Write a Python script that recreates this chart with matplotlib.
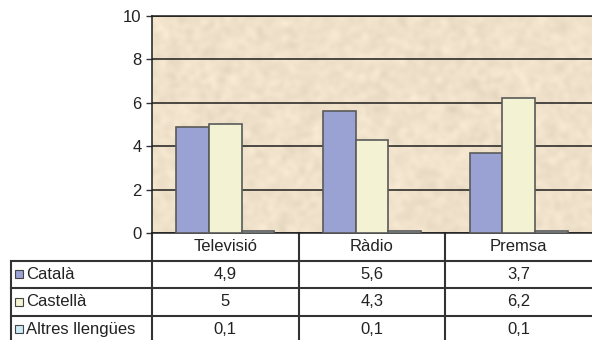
import numpy as np
import matplotlib
matplotlib.use("Agg")
import matplotlib.pyplot as plt
from matplotlib.lines import Line2D

# Audience share by language and medium
categories = ["Televisió", "Ràdio", "Premsa"]
series_names = ["Català", "Castellà", "Altres llengües"]
catala = [4.9, 5.6, 3.7]
castella = [5.0, 4.3, 6.2]
altres = [0.1, 0.1, 0.1]
y_ticks = [0, 2, 4, 6, 8, 10]

series = [catala, castella, altres]
colors = ["#99A2D2", "#F3F2D3", "#CDEBF5"]

plt.rcParams["font.family"] = ["Liberation Sans", "DejaVu Sans"]
plt.rcParams["font.size"] = 12
TXT = "#222222"
LINE = "#333333"


def fmt(v):
    s = ("%.1f" % v).rstrip("0").rstrip(".")
    return s.replace(".", ",")


W, H = 592, 340
fig = plt.figure(figsize=(W / 100, H / 100), dpi=100)
ax_l, ax_r, ax_t, ax_b = 152, 592, 16, 233
ax = fig.add_axes([ax_l / W, (H - ax_b) / H, (ax_r - ax_l) / W, (ax_b - ax_t) / H])

# parchment-like backdrop: soft mottled beige
rng = np.random.default_rng(7)
noise = rng.normal(size=(220, 440))
fx = np.fft.fftfreq(440)[None, :]
fy = np.fft.fftfreq(220)[:, None]
kern = np.exp(-(fx ** 2 + fy ** 2) / (2 * 0.06 ** 2))
smooth = np.real(np.fft.ifft2(np.fft.fft2(noise) * kern))
smooth = (smooth - smooth.mean()) / smooth.std()
base = np.array([0xEF, 0xE1, 0xCA]) / 255.0
tex = np.clip(base[None, None, :] + 0.012 * smooth[:, :, None], 0, 1)
ax.imshow(tex, extent=[-0.5, len(categories) - 0.5, 0, 10], aspect="auto",
          interpolation="bilinear", zorder=0)

x = np.arange(len(categories))
bw = 0.222
for i, (vals, col) in enumerate(zip(series, colors)):
    ax.bar(x + (i - 1) * bw, vals, bw, color=col, edgecolor="#5A5A5A",
           linewidth=1.2, zorder=3)

ax.set_xlim(-0.5, len(categories) - 0.5)
ax.set_ylim(0, 10)
ax.set_yticks(y_ticks)
ax.set_yticklabels([str(t) for t in y_ticks], color=TXT)
ax.set_xticks([])
ax.yaxis.grid(True, color="#1E1E1E", linewidth=1.1, zorder=1)
ax.set_axisbelow(True)
ax.tick_params(axis="y", length=4.5, width=1, color=LINE, pad=3)
ax.spines["right"].set_visible(False)
for s in ["left", "bottom", "top"]:
    ax.spines[s].set_color("#1E1E1E")
    ax.spines[s].set_linewidth(1.1)

# Data table under the plot
ax_h = ax_b - ax_t
ax_w = ax_r - ax_l
rh = 27.5 / ax_h
n_rows = len(series_names)
x_left = (11 - ax_l) / ax_w
y_bottom = -(n_rows + 1.2) * rh
tl = dict(transform=ax.transAxes, clip_on=False, color=LINE, linewidth=1.5)

for r in range(1, n_rows + 1):
    ax.add_line(Line2D([x_left, 1], [-r * rh, -r * rh], **tl))
for k in range(len(categories)):
    xf = k / len(categories)
    ax.add_line(Line2D([xf, xf], [0, y_bottom], **tl))
ax.add_line(Line2D([x_left, x_left], [-rh, y_bottom], **tl))

ncat = len(categories)
for k, cat in enumerate(categories):
    ax.text((k + 0.5) / ncat, -0.5 * rh, cat, transform=ax.transAxes,
            ha="center", va="center", color=TXT)
for r, (name, vals, col) in enumerate(zip(series_names, series, colors)):
    yc = -(r + 1.5) * rh
    ax.plot([(19 - ax_l) / ax_w], [yc], marker="s", markersize=5.8,
            markerfacecolor=col, markeredgecolor="#444444", markeredgewidth=0.8,
            transform=ax.transAxes, clip_on=False)
    ax.text((26.5 - ax_l) / ax_w, yc, name, transform=ax.transAxes,
            ha="left", va="center", color=TXT)
    for k, v in enumerate(vals):
        ax.text((k + 0.5) / ncat, yc, fmt(v), transform=ax.transAxes,
                ha="center", va="center", color=TXT)

fig.savefig("out.png", dpi=100, facecolor="white")
